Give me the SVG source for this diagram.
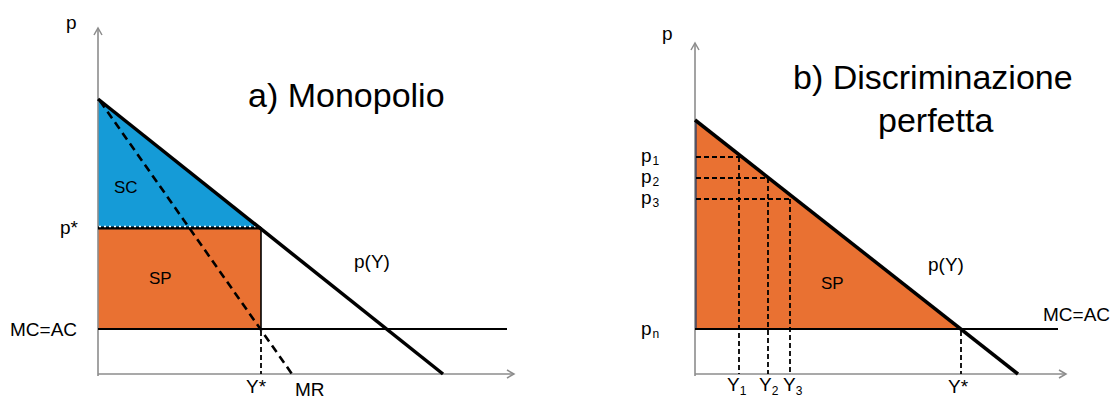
<svg xmlns="http://www.w3.org/2000/svg" width="1116" height="400" viewBox="0 0 1116 400">
<defs>
<marker id="ax" markerWidth="10" markerHeight="10" refX="8" refY="5" orient="auto" markerUnits="userSpaceOnUse">
<path d="M1,1 L8,5 L1,9" fill="none" stroke="#8c8c8c" stroke-width="1.5"/>
</marker>
</defs>
<style>
.axis{stroke:#8c8c8c;stroke-width:1.6;fill:none}
.dem{stroke:#000;stroke-width:3.5;fill:none;stroke-linecap:butt}
.mc{stroke:#000;stroke-width:1.8;fill:none}
.mr{stroke:#000;stroke-width:2.6;fill:none;stroke-dasharray:8,5}
.dsh{stroke:#000;stroke-width:1.8;fill:none;stroke-dasharray:5,3}
.lbl{font-family:"Liberation Sans",Arial,sans-serif;font-size:19px;fill:#000}
.sm{font-family:"Liberation Sans",Arial,sans-serif;font-size:17px;fill:#000}
.sub{font-size:12px}
.ttl{font-family:"Liberation Sans",Arial,sans-serif;font-size:34px;fill:#000}
</style>
<rect width="1116" height="400" fill="#fff"/>

<g id="panel-a">
<polygon id="sc-area" points="98,99 259,227 98,227" fill="#159bd7"/>
<rect id="sp-area-a" x="98" y="227" width="163" height="102" fill="#e97132"/>
<line class="axis" x1="98" y1="376" x2="98" y2="28" marker-end="url(#ax)"/>
<line class="axis" x1="98" y1="374" x2="514" y2="374" marker-end="url(#ax)"/>
<line x1="98" y1="228" x2="261" y2="228" stroke="#000" stroke-width="3"/>
<line x1="99" y1="226.5" x2="258" y2="226.5" stroke="#fff" stroke-width="1.4" stroke-dasharray="2,3"/>
<line x1="261" y1="227" x2="261" y2="329" stroke="#000" stroke-width="1.6"/>
<line class="mc" x1="98" y1="329" x2="507" y2="329"/>
<line class="mc" x1="98" y1="329" x2="261" y2="329" stroke-width="3"/>
<line class="dem" x1="98" y1="99" x2="443" y2="374"/>
<line class="mr" x1="100" y1="101" x2="292" y2="374"/>
<line class="dsh" x1="261" y1="331" x2="261" y2="374"/>
<text class="lbl" x="66" y="29">p</text>
<text class="lbl" x="60" y="234">p*</text>
<text class="lbl" x="10" y="336">MC=AC</text>
<text class="sm" x="114" y="193">SC</text>
<text class="sm" x="149" y="284">SP</text>
<text class="lbl" x="354" y="268">p(Y)</text>
<text class="lbl" x="246" y="393">Y*</text>
<text class="lbl" x="295" y="396">MR</text>
<text class="ttl" x="248" y="107">a) Monopolio</text>
</g>

<g id="panel-b">
<polygon id="sp-area-b" points="695,120 961,329 695,329" fill="#e97132"/>
<line class="axis" x1="695" y1="376" x2="695" y2="43" marker-end="url(#ax)"/>
<line x1="696" y1="122" x2="696" y2="329" stroke="#1f3864" stroke-width="1.2"/>
<line class="axis" x1="695" y1="374" x2="1066" y2="374" marker-end="url(#ax)"/>
<line class="mc" x1="695" y1="329" x2="1058" y2="329"/>
<line class="mc" x1="695" y1="329" x2="961" y2="329" stroke-width="3"/>
<line class="dem" x1="695" y1="120" x2="1018" y2="374"/>
<line class="dsh" x1="696" y1="157" x2="741" y2="157"/>
<line class="dsh" x1="696" y1="178" x2="768" y2="178"/>
<line class="dsh" x1="696" y1="199" x2="790" y2="199"/>
<line class="dsh" x1="739" y1="157" x2="739" y2="374"/>
<line class="dsh" x1="768" y1="178" x2="768" y2="374"/>
<line class="dsh" x1="790" y1="199" x2="790" y2="374"/>
<line class="dsh" x1="961" y1="331" x2="961" y2="374"/>
<text class="lbl" x="662" y="40">p</text>
<text class="lbl" x="641" y="162">p<tspan class="sub" dx="1" dy="3">1</tspan></text>
<text class="lbl" x="641" y="183">p<tspan class="sub" dx="1" dy="3">2</tspan></text>
<text class="lbl" x="641" y="204">p<tspan class="sub" dx="1" dy="3">3</tspan></text>
<text class="lbl" x="641" y="335">p<tspan class="sub" dx="1" dy="3" font-size="10">n</tspan></text>
<text class="lbl" x="727" y="391">Y<tspan class="sub" dy="4">1</tspan></text>
<text class="lbl" x="759" y="391">Y<tspan class="sub" dy="4">2</tspan></text>
<text class="lbl" x="783" y="391">Y<tspan class="sub" dy="4">3</tspan></text>
<text class="lbl" x="948" y="393">Y*</text>
<text class="sm" x="821" y="289">SP</text>
<text class="lbl" x="928" y="271">p(Y)</text>
<text class="lbl" x="1043" y="321">MC=AC</text>
<text class="ttl" x="793" y="89">b) Discriminazione</text>
<text class="ttl" x="878" y="132">perfetta</text>
</g>
</svg>
